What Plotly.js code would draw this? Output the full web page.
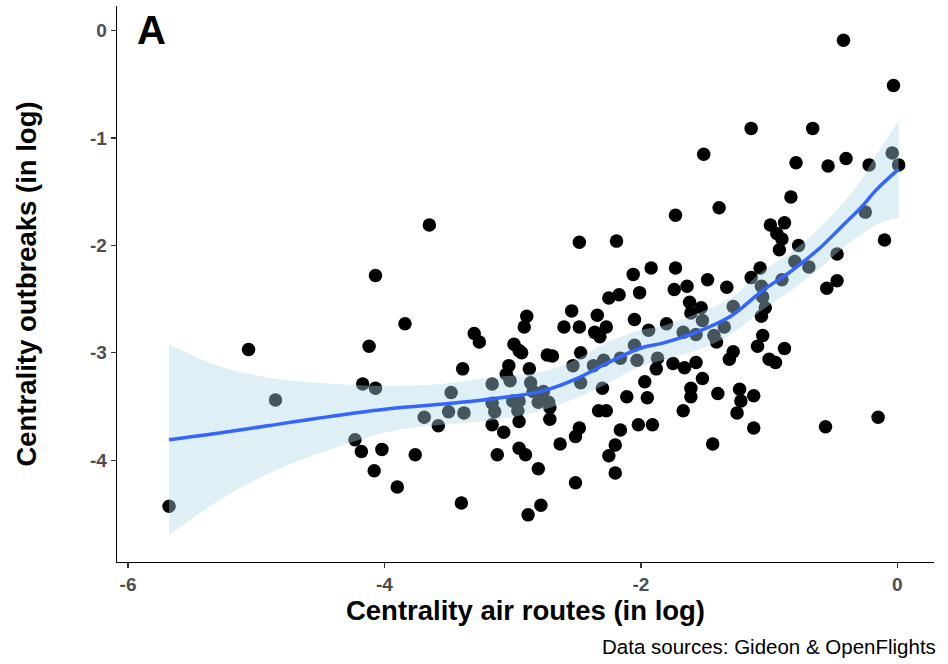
<!DOCTYPE html>
<html>
<head>
<meta charset="utf-8">
<script src="https://cdn.plot.ly/plotly-3.0.1.min.js"></script>
<style>html,body{margin:0;padding:0;background:#fff;}#chart{width:948px;height:664px;}</style>
</head>
<body>
<div id="chart"></div>
<script>
// Observed points: centrality air routes (log) vs centrality outbreaks (log)
var airRoutes = [
-5.68,-5.06,-4.85,-4.12,-4.17,-4.07,-4.23,-4.18,-4.02,-4.08,
-4.07,-3.65,-3.84,-3.30,-3.26,-2.89,-2.91,-2.99,-2.95,-2.93,
-3.39,-3.03,-3.05,-2.87,-3.16,-3.02,-2.86,-3.48,-3.69,-3.50,
-3.38,-3.16,-3.14,-3.00,-2.95,-2.96,-2.95,-3.58,-3.16,-3.07,
-3.76,-3.90,-3.40,-3.12,-2.95,-2.90,-2.80,-2.88,-2.78,-2.84,
-2.76,-2.80,-2.72,-2.71,-2.71,-2.73,-2.69,-2.54,-2.60,-2.48,
-2.34,-2.25,-2.17,-2.01,-2.36,-2.32,-2.27,-2.05,-2.47,-2.53,
-2.47,-2.37,-2.29,-2.16,-2.05,-2.03,-1.94,-1.87,-1.88,-1.97,
-2.30,-2.11,-1.95,-2.33,-2.27,-2.02,-1.91,-2.16,-2.20,-2.25,
-2.20,-2.51,-2.48,-2.63,-2.51,-1.73,-1.39,-2.48,-2.19,-2.06,
-1.92,-1.73,-1.74,-1.64,-1.48,-1.33,-1.62,-1.61,-1.53,-1.80,
-1.67,-1.52,-1.35,-1.28,-1.43,-1.41,-1.75,-1.66,-1.57,-1.28,
-1.31,-1.52,-1.61,-1.61,-1.40,-1.67,-1.23,-1.22,-1.12,-1.25,
-1.12,-1.44,-1.57,-1.06,-1.05,-1.03,-1.06,-1.05,-1.09,-0.88,
-1.00,-0.95,-0.56,-0.15,-0.42,-0.03,-1.14,-0.66,-1.51,-0.79,
-0.54,-0.40,-0.22,-0.04,0.01,-0.83,-0.99,-0.88,-0.94,-0.90,
-0.92,-0.77,-0.47,-0.25,-0.10,-0.80,-0.69,-1.07,-1.14,-0.90,
-0.47,-0.55
];
var outbreaks = [
-4.43,-2.97,-3.44,-2.94,-3.29,-3.33,-3.81,-3.92,-3.90,-4.10,
-2.28,-1.81,-2.73,-2.82,-2.90,-2.66,-2.76,-2.92,-2.98,-3.00,
-3.15,-3.12,-3.20,-3.15,-3.29,-3.26,-3.28,-3.37,-3.60,-3.55,
-3.56,-3.47,-3.55,-3.45,-3.45,-3.54,-3.64,-3.68,-3.67,-3.74,
-3.95,-4.25,-4.40,-3.95,-3.89,-3.95,-4.08,-4.51,-4.42,-3.36,
-3.36,-3.46,-3.46,-3.51,-3.62,-3.02,-3.03,-2.61,-2.76,-2.76,
-2.65,-2.49,-2.46,-2.44,-2.81,-2.85,-2.76,-2.69,-3.00,-3.12,
-3.28,-3.12,-3.07,-3.05,-2.93,-3.07,-2.79,-3.05,-3.15,-3.27,
-3.33,-3.41,-3.42,-3.54,-3.54,-3.67,-3.67,-3.72,-3.86,-3.96,
-4.12,-3.78,-3.70,-3.85,-4.21,-1.72,-1.65,-1.97,-1.96,-2.27,
-2.21,-2.21,-2.41,-2.38,-2.32,-2.39,-2.53,-2.63,-2.58,-2.73,
-2.81,-2.70,-2.76,-2.57,-2.84,-2.90,-3.10,-3.14,-3.09,-2.99,
-3.06,-3.24,-3.33,-3.41,-3.38,-3.54,-3.34,-3.45,-3.40,-3.56,
-3.70,-3.85,-2.83,-2.38,-2.48,-2.58,-2.66,-2.84,-2.94,-2.96,
-3.06,-3.09,-3.69,-3.60,-0.09,-0.51,-0.91,-0.91,-1.15,-1.23,
-1.26,-1.19,-1.25,-1.14,-1.25,-1.55,-1.81,-1.79,-1.89,-1.94,
-2.04,-2.00,-2.08,-1.69,-1.95,-2.15,-2.20,-2.21,-2.30,-2.32,
-2.33,-2.40
];

// Loess fit
var fitX = [-5.68,-5.30,-4.91,-4.52,-3.95,-3.56,-3.17,-2.78,-2.50,-2.27,-2.01,-1.83,-1.57,-1.30,-1.05,-0.84,-0.71,-0.60,-0.48,-0.37,-0.27,-0.17,0.01];
var fitY = [-3.81,-3.75,-3.68,-3.61,-3.52,-3.48,-3.43,-3.36,-3.24,-3.10,-2.96,-2.91,-2.81,-2.66,-2.42,-2.25,-2.13,-2.02,-1.88,-1.75,-1.63,-1.49,-1.29];
var fitHi = [-2.92,-3.12,-3.23,-3.28,-3.31,-3.29,-3.23,-3.18,-3.06,-2.91,-2.79,-2.75,-2.64,-2.49,-2.24,-2.07,-1.95,-1.83,-1.68,-1.53,-1.37,-1.17,-0.84];
var fitLo = [-4.70,-4.38,-4.13,-3.94,-3.73,-3.67,-3.63,-3.54,-3.42,-3.29,-3.13,-3.07,-2.98,-2.83,-2.60,-2.43,-2.31,-2.21,-2.08,-1.97,-1.89,-1.81,-1.74];

var xTicks = [-6,-4,-2,0];
var yTicks = [0,-1,-2,-3,-4];

var FONT = 'Liberation Sans, Arial, Helvetica, sans-serif';

var traces = [
  {x: airRoutes, y: outbreaks, type: 'scatter', mode: 'markers',
   marker: {color: '#000000', size: 13.5, line: {width: 0}}, hoverinfo: 'skip', showlegend: false},
  {x: fitX, y: fitLo, type: 'scatter', mode: 'lines', line: {width: 0, shape: 'spline'},
   hoverinfo: 'skip', showlegend: false},
  {x: fitX, y: fitHi, type: 'scatter', mode: 'lines', line: {width: 0, shape: 'spline'},
   fill: 'tonexty', fillcolor: 'rgba(173,216,230,0.4)', hoverinfo: 'skip', showlegend: false},
  {x: fitX, y: fitY, type: 'scatter', mode: 'lines', line: {color: '#3366FF', width: 3.5, shape: 'spline'},
   hoverinfo: 'skip', showlegend: false}
];

var axisCommon = {
  showline: true, linecolor: '#000000', linewidth: 1.3,
  showgrid: false, zeroline: false,
  ticks: 'outside', ticklen: 5, tickwidth: 1.2, tickcolor: '#333333',
  tickfont: {family: FONT, size: 19, color: '#4d4d4d', weight: 'bold'},
  automargin: false
};

var layout = {
  width: 948, height: 664,
  margin: {l: 117, r: 14, t: 6, b: 102},
  paper_bgcolor: '#ffffff', plot_bgcolor: '#ffffff',
  showlegend: false,
  xaxis: Object.assign({}, axisCommon, {
    range: [-6.086, 0.286], tickvals: xTicks, ticktext: xTicks.map(String),
    title: {text: 'Centrality air routes (in log)', standoff: 6,
            font: {family: FONT, size: 27.5, color: '#000000', weight: 'bold'}}
  }),
  yaxis: Object.assign({}, axisCommon, {
    range: [-4.949, 0.230], tickvals: yTicks, ticktext: yTicks.map(String),
    title: {text: 'Centrality outbreaks (in log)', standoff: 45,
            font: {family: FONT, size: 27.5, color: '#000000', weight: 'bold'}}
  }),
  annotations: [
    {text: 'A', xref: 'paper', yref: 'paper', x: 0.022, y: 1.0, xanchor: 'left', yanchor: 'top',
     showarrow: false, font: {family: FONT, size: 40, color: '#000000', weight: 'bold'}},
    {text: 'Data sources: Gideon & OpenFlights', xref: 'paper', yref: 'paper', x: 1.005, y: -0.128,
     xanchor: 'right', yanchor: 'top', showarrow: false,
     font: {family: FONT, size: 20.5, color: '#000000'}}
  ]
};

Plotly.newPlot('chart', traces, layout, {staticPlot: true, displayModeBar: false});
</script>
</body>
</html>
